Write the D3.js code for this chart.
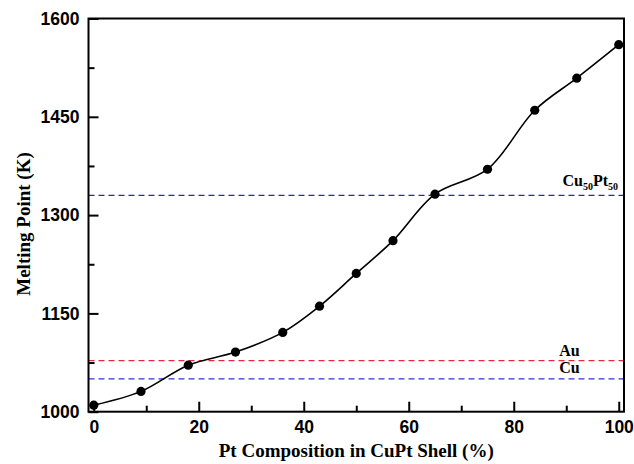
<!DOCTYPE html>
<html>
<head>
<meta charset="utf-8">
<script src="https://cdn.jsdelivr.net/npm/d3@7"></script>
<style>
  body { margin: 0; background: #fff; }
  .tick text { font-family: "Liberation Sans", Arial, sans-serif; font-weight: bold; font-size: 17.5px; fill: #000; }
  .title { font-family: "Liberation Serif", "Times New Roman", serif; font-weight: bold; font-size: 19px; fill: #000; }
  .ref-label { font-family: "Liberation Serif", "Times New Roman", serif; font-weight: bold; font-size: 16px; fill: #000; }
</style>
</head>
<body>
<div id="chart"></div>
<script>
// data
const ptComposition = [0, 9, 18, 27, 36, 43, 50, 57, 65, 75, 84, 92, 100];
const meltingPoint = [1010, 1031, 1071, 1091, 1121, 1161, 1211, 1261, 1332, 1370, 1460, 1509, 1560];

const refNames = ["Cu50Pt50", "Au", "Cu"];
const refValues = [1330, 1078, 1050];
const refColors = ["#2b2b9b", "#e8283c", "#3030e0"];

const xTicks = [0, 20, 40, 60, 80, 100];
const yTicks = [1000, 1150, 1300, 1450, 1600];

const W = 634, H = 464;
const margin = { top: 18.5, right: 10, bottom: 52.3, left: 88.5 };
const width = W - margin.left - margin.right,
  height = H - margin.top - margin.bottom;

const svg = d3.select("#chart").append("svg")
  .attr("width", W)
  .attr("height", H);

const g = svg.append("g")
  .attr("transform", "translate(" + margin.left + "," + margin.top + ")");

const x = d3.scaleLinear().domain([-1, 101]).range([0, width]);
const y = d3.scaleLinear().domain([1000, 1600]).range([height, 0]);

// reference lines (drawn under the curve)
refValues.forEach((v, i) => {
  g.append("line")
    .attr("x1", 0).attr("x2", width)
    .attr("y1", y(v)).attr("y2", y(v))
    .attr("stroke", refColors[i])
    .attr("stroke-width", 1.3)
    .attr("stroke-dasharray", "6,4");
});

// minor ticks
const xMinor = d3.range(10, 100, 20);
const yMinor = d3.range(1075, 1600, 150);

g.append("g")
  .attr("transform", "translate(0," + height + ")")
  .call(d3.axisBottom(x).tickValues(xTicks).tickSize(-10).tickPadding(9).tickFormat(d3.format("d")));
g.append("g")
  .attr("transform", "translate(0," + height + ")")
  .call(d3.axisBottom(x).tickValues(xMinor).tickSize(-6).tickFormat(""));

g.append("g")
  .call(d3.axisLeft(y).tickValues(yTicks).tickSize(-10).tickPadding(9).tickFormat(d3.format("d")));
g.append("g")
  .call(d3.axisLeft(y).tickValues(yMinor).tickSize(-6).tickFormat(""));

g.selectAll(".domain").remove();
g.selectAll(".tick line").attr("stroke", "#000").attr("stroke-width", 2);

// frame
g.append("rect")
  .attr("width", width).attr("height", height)
  .attr("fill", "none")
  .attr("stroke", "#000")
  .attr("stroke-width", 2);

// smooth curve through points
const pts = ptComposition.map((d, i) => [d, meltingPoint[i]]);
g.append("path")
  .datum(pts)
  .attr("fill", "none")
  .attr("stroke", "#000")
  .attr("stroke-width", 1.6)
  .attr("d", d3.line().x(d => x(d[0])).y(d => y(d[1])).curve(d3.curveCatmullRom.alpha(0.5)));

g.selectAll(".pt")
  .data(pts)
  .enter()
  .append("circle")
  .attr("class", "pt")
  .attr("cx", d => x(d[0]))
  .attr("cy", d => y(d[1]))
  .attr("r", 4.6)
  .attr("fill", "#000");

// reference labels
const cuPt = g.append("text")
  .attr("class", "ref-label")
  .attr("x", width - 6)
  .attr("y", y(refValues[0]) - 9)
  .attr("text-anchor", "end");
cuPt.append("tspan").text("Cu");
cuPt.append("tspan").text("50").attr("font-size", "10px").attr("dy", 4);
cuPt.append("tspan").text("Pt").attr("dy", -4);
cuPt.append("tspan").text("50").attr("font-size", "10px").attr("dy", 4);

g.append("text")
  .attr("class", "ref-label")
  .attr("x", x(90.6))
  .attr("y", y(refValues[1]) - 5)
  .attr("text-anchor", "middle")
  .text("Au");
g.append("text")
  .attr("class", "ref-label")
  .attr("x", x(90.6))
  .attr("y", y(refValues[2]) - 6)
  .attr("text-anchor", "middle")
  .text("Cu");

// axis titles
svg.append("text")
  .attr("class", "title")
  .attr("x", margin.left + x(50))
  .attr("y", 457)
  .attr("text-anchor", "middle")
  .text("Pt Composition in CuPt Shell (%)");

svg.append("text")
  .attr("class", "title")
  .attr("transform", "translate(30,224)rotate(-90)")
  .attr("text-anchor", "middle")
  .text("Melting Point (K)");
</script>
</body>
</html>
